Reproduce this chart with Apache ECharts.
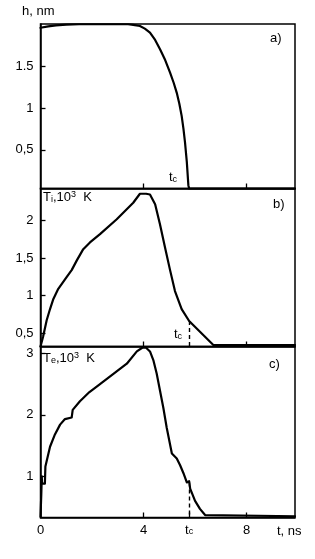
<!DOCTYPE html>
<html>
<head>
<meta charset="utf-8">
<script src="https://cdn.jsdelivr.net/npm/echarts@6/dist/echarts.min.js"></script>
<style>
html,body{margin:0;padding:0;background:#fff;}
#chart{width:315px;height:559px;}
</style>
</head>
<body>
<div id="chart"></div>
<script>
// ---- data ----
const tMax = 9.88;
const tc = 5.77;

// panel a: h, nm
const hTime  = [0, 0.3, 0.6, 1.0, 1.5, 3.4, 3.6, 3.86, 4.05, 4.25, 4.45, 4.64, 4.84, 5.03, 5.17, 5.29, 5.39, 5.48, 5.55, 5.61, 5.68, 5.74, 5.77, 9.88];
const hValue = [1.955, 1.972, 1.984, 1.993, 1.997, 1.997, 1.99, 1.976, 1.945, 1.898, 1.81, 1.70, 1.57, 1.42, 1.30, 1.18, 1.05, 0.905, 0.75, 0.59, 0.357, 0.08, 0.04, 0.04];
const hTicks = [0.5, 1, 1.5];
const hTickLabels = ['0,5', '1', '1.5'];

// panel b: Ti, 10^3 K
const iTime  = [0, 0.1, 0.24, 0.37, 0.5, 0.69, 1.02, 1.21, 1.41, 1.66, 1.92, 2.31, 2.96, 3.6, 3.86, 4.1, 4.25, 4.45, 4.64, 4.83, 5.03, 5.22, 5.48, 5.77, 6.71, 9.88];
const iValue = [0.32, 0.45, 0.67, 0.82, 0.955, 1.09, 1.25, 1.34, 1.47, 1.62, 1.71, 1.82, 2.02, 2.24, 2.36, 2.36, 2.35, 2.22, 1.95, 1.65, 1.34, 1.06, 0.82, 0.66, 0.34, 0.34];
const iTicks = [0.5, 1, 1.5, 2];
const iTickLabels = ['0,5', '1', '1,5', '2'];
const iTcValue = 0.66;

// panel c: Te, 10^3 K
const eTime  = [0, 0.03, 0.05, 0.06, 0.17, 0.19, 0.37, 0.56, 0.76, 0.95, 1.21, 1.25, 1.53, 1.9, 2.31, 3.35, 3.74, 3.95, 4.1, 4.25, 4.38, 4.51, 4.64, 4.77, 4.9, 5.1, 5.29, 5.42, 5.55, 5.68, 5.74, 5.77, 5.81, 6.0, 6.19, 6.39, 6.45, 9.88];
const eValue = [0.34, 0.7, 1.0, 0.88, 0.88, 1.16, 1.48, 1.68, 1.84, 1.93, 1.955, 2.08, 2.22, 2.37, 2.5, 2.83, 3.03, 3.09, 3.09, 3.03, 2.89, 2.67, 2.39, 2.11, 1.79, 1.37, 1.29, 1.18, 1.05, 0.9, 0.87, 0.92, 0.8, 0.6, 0.47, 0.37, 0.35, 0.35];
const eTicks = [1, 2, 3];
const eTickLabels = ['1', '2', '3'];
const eTcValue = 0.9;

const tTicks = [0, 4, tc, 8];
const tTickLabels = ['0', '4', 'tc', '8'];

// ---- chart ----
const FONT = 'Liberation Sans, Arial, sans-serif';
const FS = 13;
const zip = (a, b) => a.map((v, i) => [v, b[i]]);
const chart = echarts.init(document.getElementById('chart'), null, {renderer: 'canvas'});

const gridBase = {left: 40.5, width: 254.5, show: true, borderColor: '#000', borderWidth: 1.5, backgroundColor: 'transparent'};
const grids = [
  Object.assign({top: 24, height: 164.5}, gridBase),
  Object.assign({top: 188.5, height: 158}, gridBase),
  Object.assign({top: 346.5, height: 171}, gridBase)
];

const rich = {
  t: {fontFamily: FONT, fontSize: FS, color: '#000'},
  s: {fontFamily: FONT, fontSize: 9, color: '#000', padding: [4, 0, 0, 0]},
  u: {fontFamily: FONT, fontSize: 9, color: '#000', padding: [0, 0, 6, 0]}
};

function xAxis(gi, ticks, showLabels) {
  return {
    type: 'value', gridIndex: gi, min: 0, max: tMax,
    axisLine: {show: true, lineStyle: {color: '#000', width: 1.5}},
    axisTick: {show: true, inside: true, length: 5, customValues: ticks, lineStyle: {color: '#000', width: 1.3}},
    axisLabel: showLabels ? {
      show: true, customValues: tTicks, margin: 6,
      formatter: v => {
        const i = tTicks.findIndex(x => Math.abs(x - v) < 1e-6);
        const s = i >= 0 ? tTickLabels[i] : '';
        return s === 'tc' ? '{t|t}{s|c}' : '{t|' + s + '}';
      },
      rich: rich
    } : {show: false},
    splitLine: {show: false}
  };
}
function yAxis(gi, min, max, ticks, labels) {
  return {
    type: 'value', gridIndex: gi, min: min, max: max,
    axisLine: {show: true, lineStyle: {color: '#000', width: 1.5}},
    axisTick: {show: true, inside: true, length: 5, customValues: ticks, lineStyle: {color: '#000', width: 1.3}},
    axisLabel: {
      show: true, customValues: ticks, margin: 7, color: '#000', fontFamily: FONT, fontSize: FS,
      formatter: v => {
        const i = ticks.findIndex(x => Math.abs(x - v) < 1e-6);
        return i >= 0 ? labels[i] : '';
      }
    },
    splitLine: {show: false}
  };
}

const lineStyle = {color: '#000', width: 2.2, join: 'round', cap: 'round'};
const dashed = (x, y, ymin) => ({
  silent: true, symbol: 'none', label: {show: false},
  lineStyle: {color: '#000', type: [4, 3], width: 1.4},
  data: [[{coord: [x, y]}, {coord: [x, ymin]}]]
});
const common = {type: 'line', showSymbol: false, lineStyle: lineStyle, clip: false, smooth: false};

const option = {
  animation: false,
  backgroundColor: '#fff',
  grid: grids,
  xAxis: [xAxis(0, [4, 8], false), xAxis(1, [4, 8], false), xAxis(2, [4, tc, 8], true)],
  yAxis: [
    yAxis(0, 0.04, 2.0, hTicks, hTickLabels),
    yAxis(1, 0.32, 2.43, iTicks, iTickLabels),
    yAxis(2, 0.33, 3.11, eTicks, eTickLabels)
  ],
  series: [
    Object.assign({xAxisIndex: 0, yAxisIndex: 0, data: zip(hTime, hValue)}, common),
    Object.assign({xAxisIndex: 1, yAxisIndex: 1, data: zip(iTime, iValue), markLine: dashed(tc, iTcValue, 0.32)}, common),
    Object.assign({xAxisIndex: 2, yAxisIndex: 2, data: zip(eTime, eValue), markLine: dashed(tc + 0.01, eTcValue, 0.33)}, common)
  ],
  graphic: [
    {type: 'text', left: 22, top: 5, style: {text: 'h, nm', font: FS + 'px ' + FONT, fill: '#000'}},
    {type: 'text', left: 270, top: 32, style: {text: 'a)', font: FS + 'px ' + FONT, fill: '#000'}},
    {type: 'text', left: 273, top: 198, style: {text: 'b)', font: FS + 'px ' + FONT, fill: '#000'}},
    {type: 'text', left: 269, top: 358, style: {text: 'c)', font: FS + 'px ' + FONT, fill: '#000'}},
    {type: 'text', left: 169, top: 171, style: {text: '{t|t}{s|c}', rich: rich}},
    {type: 'text', left: 174, top: 328, style: {text: '{t|t}{s|c}', rich: rich}},
    {type: 'text', left: 43, top: 190, style: {text: '{t|T}{s|i}{t|,10}{u|3}{t|  K}', rich: rich}},
    {type: 'text', left: 43, top: 351, style: {text: '{t|T}{s|e}{t|,10}{u|3}{t|  K}', rich: rich}},
    {type: 'text', left: 277, top: 525, style: {text: 't, ns', font: FS + 'px ' + FONT, fill: '#000'}}
  ]
};
chart.setOption(option);
</script>
</body>
</html>
